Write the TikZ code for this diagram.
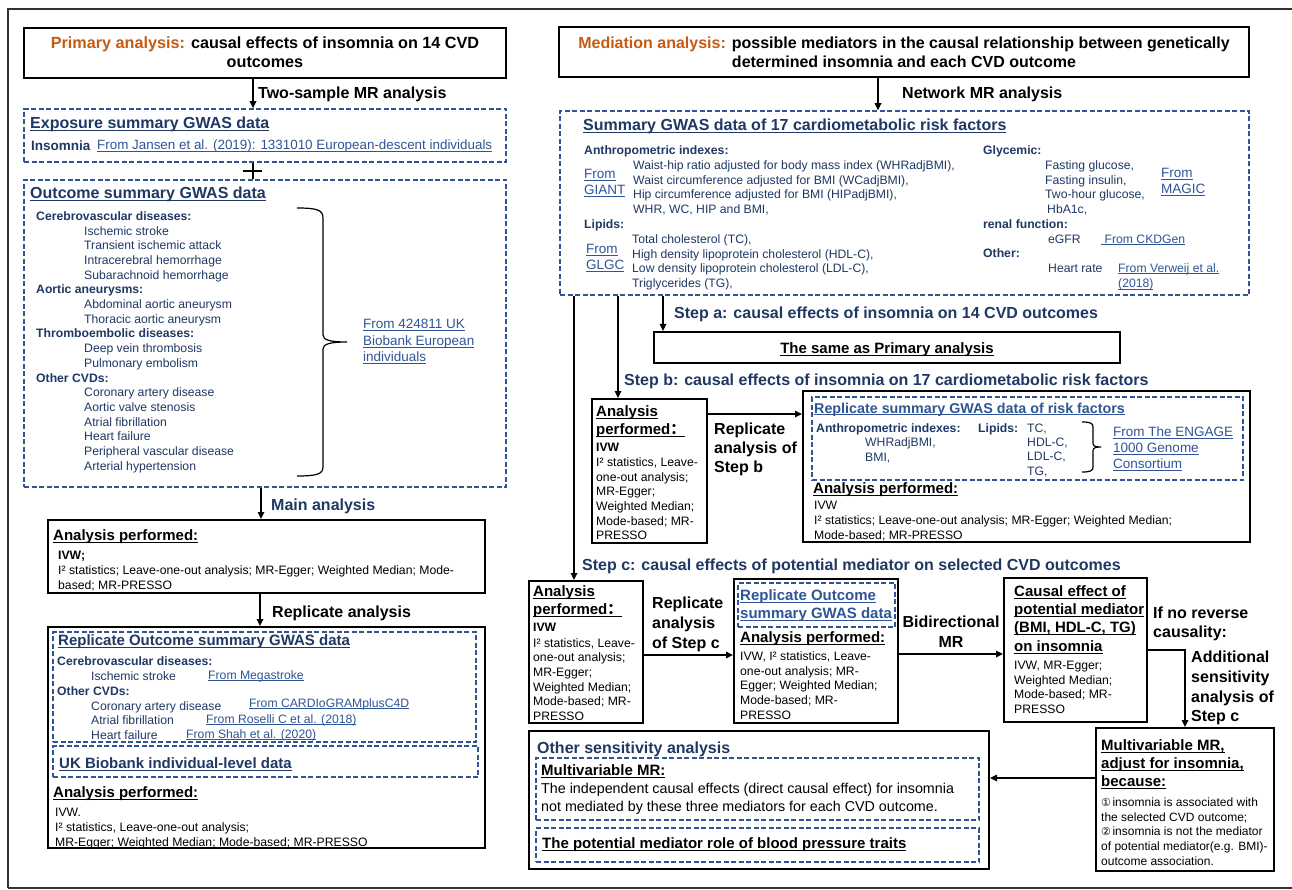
\documentclass[tikz,border=0pt]{standalone}
\usepackage{fontspec}
\setmainfont{Liberation Sans}
\newfontfamily\cjkf{Noto Sans CJK SC}
\newfontfamily\dejavu{DejaVu Sans}
\usetikzlibrary{arrows.meta,calc}
\definecolor{orng}{RGB}{197,90,17}
\definecolor{navy}{RGB}{31,56,100}
\definecolor{lnk}{RGB}{47,85,151}
\definecolor{dsh}{RGB}{47,85,151}
\newcommand\fsz[2]{\fontsize{#1}{#2}\selectfont}
\newcommand\fcolon{{\cjkf ：}}
\newcommand\uline[1]{\setbox0\hbox{#1}\rlap{\rule[-0.16em]{\wd0}{0.07em}}\box0}
\newcommand\circnum[1]{{\dejavu\fontsize{11}{14.8}\selectfont #1}\hspace{1.5pt}}
\newcommand\mkbox[6]{\node[#2, minimum width={#5-#3}, minimum height={#6-#4}] (#1) at ({(#3+#5)/2},{(#4+#6)/2}) {};}
\tikzset{
  sbox/.style={draw=black, line width=2pt, inner sep=0},
  dbox/.style={draw=dsh, line width=1.5pt, dash pattern=on 5pt off 2.5pt, inner sep=0},
  arr/.style={line width=1.6pt, -{Triangle[length=7pt,width=6.5pt]}},
  plainln/.style={line width=1.6pt},
  brc/.style={line width=1.2pt},
  outerframe/.style={line width=2.4pt, black!80},
  tl/.style={inner sep=0, anchor=north west, align=left},
  tc/.style={inner sep=0, anchor=north, align=center},
  ft/.style 2 args={font=\fsz{#1}{#2}, yshift={0.7*#2-0.34*#1}},
  ftb/.style 2 args={font=\fsz{#1}{#2}\bfseries, yshift={0.7*#2-0.34*#1}},
}
\begin{document}
\begin{tikzpicture}[x=1pt,y=-1pt]
\useasboundingbox (0,0) rectangle (1292,890);
\clip (0,0) rectangle (1292,890);
\fill[white] (0,0) rectangle (1292,890);
\draw[outerframe] (8,888) -- (8,9) -- (1300,9);
\draw[outerframe] (8,888) -- (1300,888);

%%%%%%%%%%%%%%%% LEFT PANEL %%%%%%%%%%%%%%%%
\mkbox{ptitle}{sbox}{24}{28}{506}{78}
\node[tc,ftb={16.2}{19}] (ptitle-t) at (265,43) {\strut{\color{orng}Primary analysis:} causal effects of insomnia on 14 CVD\\outcomes};
\node[tl,ftb={16}{19}] (lab1) at (258,93) {\strut Two-sample MR analysis};

\mkbox{exp}{dbox}{24}{109}{506}{162}
\node[tl,ftb={16}{19},text=navy] (exp-h) at (30,123) {\strut\uline{Exposure summary GWAS data}};
\node[tl,ftb={13.5}{16},text=navy] (exp-i) at (31,146) {\strut Insomnia};
\node[tl,ft={13.4}{16},text=lnk] (exp-s) at (97,145) {\strut\uline{From Jansen et al. (2019): 1331010 European-descent individuals}};

\mkbox{out}{dbox}{24}{180}{506}{487}
\node[tl,ftb={16}{19},text=navy] (out-h) at (30,193) {\strut\uline{Outcome summary GWAS data}};
\node[tl,ft={12.2}{14.7},text=navy] (out-l) at (36,216) {\strut\textbf{Cerebrovascular diseases:}\\
\hspace*{48pt}Ischemic stroke\\
\hspace*{48pt}Transient ischemic attack\\
\hspace*{48pt}Intracerebral hemorrhage\\
\hspace*{48pt}Subarachnoid hemorrhage\\
\textbf{Aortic aneurysms:}\\
\hspace*{48pt}Abdominal aortic aneurysm\\
\hspace*{48pt}Thoracic aortic aneurysm\\
\textbf{Thromboembolic diseases:}\\
\hspace*{48pt}Deep vein thrombosis\\
\hspace*{48pt}Pulmonary embolism\\
\textbf{Other CVDs:}\\
\hspace*{48pt}Coronary artery disease\\
\hspace*{48pt}Aortic valve stenosis\\
\hspace*{48pt}Atrial fibrillation\\
\hspace*{48pt}Heart failure\\
\hspace*{48pt}Peripheral vascular disease\\
\hspace*{48pt}Arterial hypertension};
\draw[brc] (297,208) .. controls (317,208) and (323,210) .. (323,218) -- (323,335)
  .. controls (323,340) and (330,342) .. (347,342)
  .. controls (330,342) and (323,344) .. (323,349) -- (323,467)
  .. controls (323,474) and (317,476) .. (297,476);
\node[tl,ft={13.5}{16.5},text=lnk] (out-s) at (363,324) {\strut\uline{From 424811 UK}\\\uline{Biobank European}\\\uline{individuals}};
\node[tl,ftb={16}{19},text=navy] (lab2) at (271,505) {\strut Main analysis};

\mkbox{ap1}{sbox}{48}{520}{485}{593}
\node[tl,ftb={15}{18}] (ap1-h) at (53,535) {\strut\uline{Analysis performed:}};
\node[tl,ftb={12.2}{14.7}] (ap1-i) at (58,555) {\strut IVW;};
\node[tl,ft={12.2}{14.8}] (ap1-t) at (58,570) {\strut I² statistics; Leave-one-out analysis; MR-Egger; Weighted Median; Mode-\\based; MR-PRESSO};
\node[tl,ftb={16}{19}] (lab3) at (272,612) {\strut Replicate analysis};

\mkbox{rep}{sbox}{48}{627}{485}{848}
\mkbox{rd1}{dbox}{53}{632}{476}{742}
\node[tl,ftb={15}{18},text=navy] (rd1-h) at (58,640) {\strut\uline{Replicate Outcome summary GWAS data}};
\node[tl,ftb={12.2}{14.7},text=navy] (rd1-c1) at (57,661) {\strut Cerebrovascular diseases:};
\node[tl,ft={12.2}{14.7},text=navy] (rd1-i1) at (91,676) {\strut Ischemic stroke};
\node[tl,ft={12.2}{14.7},text=lnk] (rd1-s1) at (208,675) {\strut\uline{From Megastroke}};
\node[tl,ftb={12.2}{14.7},text=navy] (rd1-c2) at (57,691) {\strut Other CVDs:};
\node[tl,ft={12.2}{14.7},text=navy] (rd1-i2) at (91,706) {\strut Coronary artery disease};
\node[tl,ft={12.2}{14.7},text=lnk] (rd1-s2) at (249,703) {\strut\uline{From CARDIoGRAMplusC4D}};
\node[tl,ft={12.2}{14.7},text=navy] (rd1-i3) at (91,720) {\strut Atrial fibrillation};
\node[tl,ft={12.2}{14.7},text=lnk] (rd1-s3) at (206,719) {\strut\uline{From Roselli C et al. (2018)}};
\node[tl,ft={12.2}{14.7},text=navy] (rd1-i4) at (91,735) {\strut Heart failure};
\node[tl,ft={12.2}{14.7},text=lnk] (rd1-s4) at (186,734) {\strut\uline{From Shah et al. (2020)}};
\mkbox{rd2}{dbox}{53}{746}{478}{777}
\node[tl,ftb={15}{18},text=navy] (rd2-h) at (59,763) {\strut\uline{UK Biobank individual-level data}};
\node[tl,ftb={15}{18}] (rep-h) at (53,792) {\strut\uline{Analysis performed:}};
\node[tl,ft={12.2}{15}] (rep-t) at (55,812) {\strut IVW.\\I² statistics, Leave-one-out analysis;\\MR-Egger; Weighted Median; Mode-based; MR-PRESSO};

%%%%%%%%%%%%%%%% RIGHT PANEL %%%%%%%%%%%%%%%%
\mkbox{mtitle}{sbox}{559}{27}{1249}{77}
\node[tc,ftb={16}{19}] (mtitle-t) at (904,43) {\strut{\color{orng}Mediation analysis:} possible mediators in the causal relationship between genetically\\determined insomnia and each CVD outcome};
\node[tl,ftb={16}{19}] (lab4) at (902,93) {\strut Network MR analysis};

\mkbox{sg}{dbox}{560}{111}{1249}{295}
\node[tl,ftb={16}{19},text=navy] (sg-h) at (583,125) {\strut\uline{Summary GWAS data of 17 cardiometabolic risk factors}};
\node[tl,ftb={12.2}{14.7},text=navy] (sg-a) at (584,150) {\strut Anthropometric indexes:};
\node[tl,ft={13.5}{15.5},text=lnk] (sg-giant) at (584,174) {\strut\uline{From}\\\uline{GIANT}};
\node[tl,ft={12.2}{14.7},text=navy] (sg-al) at (633,165) {\strut Waist-hip ratio adjusted for body mass index (WHRadjBMI),\\Waist circumference adjusted for BMI (WCadjBMI),\\Hip circumference adjusted for BMI (HIPadjBMI),\\WHR, WC, HIP and BMI,};
\node[tl,ftb={12.2}{14.7},text=navy] (sg-lip) at (584,224) {\strut Lipids:};
\node[tl,ft={13.5}{16},text=lnk] (sg-glgc) at (586,249) {\strut\uline{From}\\\uline{GLGC}};
\node[tl,ft={12.2}{14.7},text=navy] (sg-ll) at (632,239) {\strut Total cholesterol (TC),\\High density lipoprotein cholesterol (HDL-C),\\Low density lipoprotein cholesterol (LDL-C),\\Triglycerides (TG),};
\node[tl,ftb={12.2}{14.7},text=navy] (sg-g) at (983,150) {\strut Glycemic:};
\node[tl,ft={12.2}{14.7},text=navy] (sg-gl) at (1045,165) {\strut Fasting glucose,\\Fasting insulin,\\Two-hour glucose,\\\hspace*{2pt}HbA1c,};
\node[tl,ft={13.5}{15.5},text=lnk] (sg-magic) at (1161,173) {\strut\uline{From}\\\uline{MAGIC}};
\node[tl,ftb={12.2}{14.7},text=navy] (sg-r) at (983,224) {\strut renal function:};
\node[tl,ft={12.2}{14.7},text=navy] (sg-e) at (1048,239) {\strut eGFR};
\node[tl,ft={12.2}{14.7},text=lnk] (sg-ck) at (1101,239) {\strut\uline{~From CKDGen}};
\node[tl,ftb={12.2}{14.7},text=navy] (sg-o) at (983,253) {\strut Other:};
\node[tl,ft={12.2}{14.7},text=navy] (sg-hr) at (1048,268) {\strut Heart rate};
\node[tl,ft={12.2}{15.5},text=lnk] (sg-vw) at (1118,268) {\strut\uline{From Verweij et al.}\\\uline{(2018)}};

\node[tl,ftb={16}{19},text=navy] (stepa) at (674,313) {\strut Step a: causal effects of insomnia on 14 CVD outcomes};
\mkbox{same}{sbox}{654}{332}{1120}{363}
\node[tl,ftb={15}{18},anchor=north] (same-t) at (887,348) {\strut\uline{The same as Primary analysis}};
\node[tl,ftb={16}{19},text=navy] (stepb) at (624,380) {\strut Step b: causal effects of insomnia on 17 cardiometabolic risk factors};

\mkbox{apb}{sbox}{592}{399}{707}{543}
\node[tl,ftb={15}{18}] (apb-h) at (596,411) {\strut\uline{Analysis}\\\uline{performed\fcolon}};
\node[tl,ftb={12.2}{14.7}] (apb-i) at (596,447) {\strut IVW};
\node[tl,ft={12.2}{14.7}] (apb-t) at (596,462) {\strut I² statistics, Leave-\\one-out analysis;\\MR-Egger;\\Weighted Median;\\Mode-based; MR-\\PRESSO};
\node[tl,ftb={16}{19}] (lab5) at (714,429) {\strut Replicate\\analysis of\\Step b};

\mkbox{rrf}{sbox}{803}{391}{1250}{542}
\mkbox{rrfd}{dbox}{812}{397}{1243}{480}
\node[tl,ftb={14.3}{17},text=lnk] (rrf-h) at (814,408) {\strut\uline{Replicate summary GWAS data of risk factors}};
\node[tl,ftb={12.2}{14.7},text=navy] (rrf-a) at (816,428) {\strut Anthropometric indexes:};
\node[tl,ft={12.2}{15},text=navy] (rrf-al) at (865,442) {\strut WHRadjBMI,\\BMI,};
\node[tl,ftb={12.2}{14.7},text=navy] (rrf-l) at (978,428) {\strut Lipids:};
\node[tl,ft={12.2}{14.3},text=navy] (rrf-ll) at (1027,428) {\strut TC,\\HDL-C,\\LDL-C,\\TG,};
\draw[brc] (1082,422) .. controls (1090,422) and (1093,423) .. (1093,427) -- (1093,443)
  .. controls (1093,446) and (1095,447) .. (1101,447)
  .. controls (1095,447) and (1093,448) .. (1093,451) -- (1093,467)
  .. controls (1093,471) and (1090,472) .. (1082,472);
\node[tl,ft={13.5}{16},text=lnk] (rrf-s) at (1113,432) {\strut\uline{From The ENGAGE}\\\uline{1000 Genome}\\\uline{Consortium}};
\node[tl,ftb={15}{18}] (rrf-ap) at (813,488) {\strut\uline{Analysis performed:}};
\node[tl,ft={12.2}{15}] (rrf-t) at (814,505) {\strut IVW\\I² statistics; Leave-one-out analysis; MR-Egger; Weighted Median;\\Mode-based; MR-PRESSO};

\node[tl,ftb={16}{19},text=navy] (stepc) at (582,565) {\strut Step c: causal effects of potential mediator on selected CVD outcomes};

\mkbox{apc}{sbox}{529}{581}{643}{723}
\node[tl,ftb={15}{18}] (apc-h) at (533,591) {\strut\uline{Analysis}\\\uline{performed\fcolon}};
\node[tl,ftb={12.2}{14.7}] (apc-i) at (533,627) {\strut IVW};
\node[tl,ft={12.2}{14.6}] (apc-t) at (533,643) {\strut I² statistics, Leave-\\one-out analysis;\\MR-Egger;\\Weighted Median;\\Mode-based; MR-\\PRESSO};
\node[tl,ftb={16}{20}] (lab6) at (652,603) {\strut Replicate\\analysis\\of Step c};

\mkbox{b2}{sbox}{734}{579}{898}{723}
\mkbox{b2d}{dbox}{738}{583}{895}{627}
\node[tl,ftb={15}{18},text=lnk] (b2-h) at (740,595) {\strut\uline{Replicate Outcome}\\\uline{summary GWAS data}};
\node[tl,ftb={15}{18}] (b2-ap) at (740,637) {\strut\uline{Analysis performed:}};
\node[tl,ft={12.2}{14.8}] (b2-t) at (740,656) {\strut IVW, I² statistics, Leave-\\one-out analysis; MR-\\Egger; Weighted Median;\\Mode-based; MR-\\PRESSO};
\node[tc,ftb={16}{20}] (lab7) at (951,622) {\strut Bidirectional\\MR};

\mkbox{b3}{sbox}{1004}{578}{1147}{722}
\node[tl,ftb={15}{18.3}] (b3-h) at (1014,591) {\strut\uline{Causal effect of}\\\uline{potential mediator}\\\uline{(BMI, HDL-C, TG)}\\\uline{on insomnia}};
\node[tl,ft={12.2}{14.7}] (b3-t) at (1014,665) {\strut IVW, MR-Egger;\\Weighted Median;\\Mode-based; MR-\\PRESSO};
\node[tl,ftb={16}{19}] (lab8) at (1153,613) {\strut If no reverse\\causality:};
\node[tl,ftb={16}{19.7}] (lab9) at (1191,657) {\strut Additional\\sensitivity\\analysis of\\Step c};

\mkbox{mv}{sbox}{1096}{728}{1274}{871}
\node[tl,ftb={15}{18}] (mv-h) at (1101,745) {\strut\uline{Multivariable MR,}\\\uline{adjust for insomnia,}\\\uline{because:}};
\node[tl,ft={12}{14.8}] (mv-t) at (1101,802) {\strut\circnum{①}insomnia is associated with\\the selected CVD outcome;\\\circnum{②}insomnia is not the mediator\\of potential mediator(e.g. BMI)-\\outcome association.};

\mkbox{os}{sbox}{529}{731}{989}{869}
\node[tl,ftb={16}{19},text=navy] (os-h) at (537,748) {\strut Other sensitivity analysis};
\mkbox{osd1}{dbox}{536}{758}{979}{820}
\node[tl,ftb={15}{18}] (osd1-h) at (541,770) {\strut\uline{Multivariable MR:}};
\node[tl,ft={14.3}{18}] (osd1-t) at (541,788) {\strut The independent causal effects (direct causal effect) for insomnia\\not mediated by these three mediators for each CVD outcome.};
\mkbox{osd2}{dbox}{536}{828}{979}{862}
\node[tl,ftb={15}{18}] (osd2-h) at (542,843) {\strut\uline{The potential mediator role of blood pressure traits}};

%%%%%%%%%%%%%%%% CONNECTORS %%%%%%%%%%%%%%%%
\draw[arr] ([xshift=-12pt]ptitle.south) -- ([xshift=-12pt]exp.north);
\draw[plainln] ([xshift=-12pt]exp.south) -- ([xshift=-12pt]out.north);
\draw[plainln] ([xshift=-22pt,yshift=-8pt]exp.south) -- ([xshift=-3pt,yshift=-8pt]exp.south);
\draw[arr] ([xshift=-4pt]out.south) -- ([xshift=-4pt]out.south |- ap1.north);
\draw[arr] ([xshift=-6.5pt]ap1.south) -- ([xshift=-6.5pt]ap1.south |- rep.north);
\draw[arr] ([xshift=-26pt]mtitle.south) -- ([xshift=-26pt]mtitle.south |- sg.north);
\draw[arr] ([xshift=-330.5pt]sg.south) -- ([xshift=-330.5pt]sg.south |- apc.north);
\draw[arr] ([xshift=-286.5pt]sg.south) -- ([xshift=-286.5pt]sg.south |- apb.north);
\draw[arr] ([xshift=-241.5pt]sg.south) -- ([xshift=-241.5pt]sg.south |- same.north);
\draw[arr] ([yshift=57pt]apb.east) -- ([yshift=57pt]apb.east -| rrf.west);
\draw[arr] ([yshift=-3pt]apc.east) -- ([yshift=-3pt]apc.east -| b2.west);
\draw[arr] ([yshift=-3pt]b2.east) -- ([yshift=-3pt]b2.east -| b3.west);
\draw[arr] (b3.east) -| (mv.north);
\draw[arr] ([yshift=21.5pt]mv.west) -- ([yshift=21.5pt]mv.west -| os.east);
\end{tikzpicture}
\end{document}
